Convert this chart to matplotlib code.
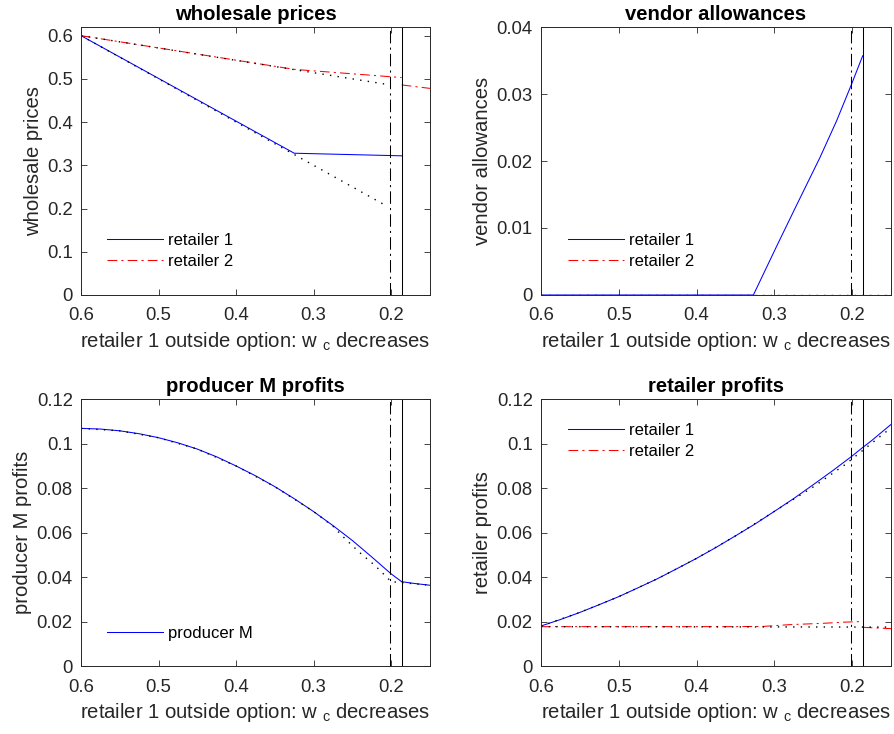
import matplotlib
matplotlib.use("Agg")
import matplotlib.pyplot as plt
from matplotlib.ticker import FuncFormatter

plt.rcParams['font.family'] = ['Liberation Sans', 'DejaVu Sans']
plt.rcParams['lines.scale_dashes'] = False

# ---- data ----
# wholesale prices
w1_x = [0.6, 0.325, 0.1865]
w1_y = [0.6, 0.328, 0.322]
w2_x = [0.6, 0.325, 0.1865]
w2_y = [0.6, 0.522, 0.503]
w2_after_x = [0.1865, 0.15]
w2_after_y = [0.486, 0.478]
w1_bench_x = [0.6, 0.208]
w1_bench_y = [0.6, 0.208]
w2_bench_x = [0.6, 0.201]
w2_bench_y = [0.6, 0.486]

# vendor allowances
a1_x = [0.6, 0.327, 0.297, 0.2715, 0.2415, 0.22, 0.201, 0.1865]
a1_y = [0.0, 0.0, 0.0073, 0.0134, 0.0205, 0.0260, 0.0314, 0.0357]
a2_x = [0.6, 0.15]
a2_y = [0.0, 0.0]

# producer M profits
pm_x = [0.6, 0.575, 0.55, 0.525, 0.5, 0.475, 0.45, 0.425, 0.4, 0.375, 0.35, 0.325,
        0.3, 0.275, 0.25, 0.225, 0.2, 0.1865]
pm_y = [0.1068, 0.1065, 0.1057, 0.1044, 0.1026, 0.1003, 0.0975, 0.0940, 0.0899, 0.0855,
        0.0806, 0.0752, 0.0694, 0.0631, 0.0564, 0.0490, 0.0414, 0.0379]
pm_after_x = [0.1865, 0.17, 0.15]
pm_after_y = [0.0379, 0.0371, 0.0363]
pm_bench_x = [0.6, 0.55, 0.5, 0.45, 0.4, 0.35, 0.3, 0.275, 0.26, 0.241, 0.22, 0.2, 0.19, 0.15]
pm_bench_y = [0.1068, 0.1057, 0.1026, 0.0975, 0.0899, 0.0806, 0.0694, 0.0628, 0.0574, 0.0511,
              0.0449, 0.0379, 0.0376, 0.0363]

# retailer profits
r1_x = [0.6, 0.575, 0.55, 0.525, 0.5, 0.475, 0.45, 0.425, 0.4, 0.375, 0.35, 0.325,
        0.3, 0.275, 0.25, 0.225, 0.2, 0.1865, 0.175, 0.15]
r1_y = [0.0180, 0.0209, 0.0241, 0.0276, 0.0312, 0.0352, 0.0393, 0.0438, 0.0484, 0.0533,
        0.0585, 0.0638, 0.0695, 0.0753, 0.0815, 0.0878, 0.0944, 0.0982, 0.1013, 0.1086]
r1_bench_x = [0.6, 0.55, 0.5, 0.45, 0.4, 0.35, 0.3, 0.25, 0.23, 0.21, 0.19, 0.16, 0.15]
r1_bench_y = [0.0180, 0.0241, 0.0312, 0.0393, 0.0484, 0.0585, 0.0695, 0.0805, 0.0854, 0.0903,
              0.0959, 0.1043, 0.1070]
r2_x = [0.6, 0.35, 0.3144, 0.28, 0.2372, 0.2116, 0.1865]
r2_y = [0.0177, 0.0177, 0.0178, 0.0186, 0.0192, 0.0197, 0.0200]
r2_after_x = [0.1865, 0.15]
r2_after_y = [0.0174, 0.0168]
r2_bench_x = [0.6, 0.15]
r2_bench_y = [0.0177, 0.0175]

# reference lines
wc_dashdot = 0.201
wc_solid = 0.1865

x_ticks = [0.6, 0.5, 0.4, 0.3, 0.2]
xlabel = r'retailer 1 outside option: w $_{\mathregular{c}}$ decreases'

# ---- styles ----
dashdot = (0, (7, 3, 1.5, 3))
dotted = (0, (1, 4.5))
axcol = (0.15, 0.15, 0.15)
fs = 13.3           # tick labels
fs_lab = 14.6       # axis labels, titles
fs_leg = 12         # legend
lw = 0.75

fig = plt.figure(figsize=(8.95, 7.34), dpi=100)
positions = [
    [0.0905, 0.5981, 0.3899, 0.3651],
    [0.6045, 0.5981, 0.3911, 0.3651],
    [0.0905, 0.0926, 0.3899, 0.3638],
    [0.6045, 0.0926, 0.3911, 0.3638],
]
axes = [fig.add_axes(p) for p in positions]


def style(ax, ylim, yticks, title, ylabel):
    ax.set_xlim(0.6, 0.15)
    ax.set_ylim(*ylim)
    ax.set_xticks(x_ticks)
    ax.set_yticks(yticks)
    ax.xaxis.set_major_formatter(FuncFormatter(lambda v, p: '%g' % round(v, 4)))
    ax.yaxis.set_major_formatter(FuncFormatter(lambda v, p: '%g' % round(v, 4)))
    ax.tick_params(direction='in', top=True, right=True, length=4, width=0.6,
                   colors=axcol, labelsize=fs)
    ax.tick_params(axis='x', pad=9)
    ax.tick_params(axis='y', pad=6)
    for s in ax.spines.values():
        s.set_color(axcol)
        s.set_linewidth(0.7)
    ax.set_title(title, fontsize=fs_lab, fontweight='bold', pad=5)
    ax.set_xlabel(xlabel, fontsize=fs_lab, color=axcol, labelpad=4)
    ax.set_ylabel(ylabel, fontsize=fs_lab, color=axcol, labelpad=3)
    ax.axvline(wc_dashdot, color='k', lw=lw, linestyle=(0, (9, 3, 1.5, 3)))
    ax.axvline(wc_solid, color='k', lw=lw)


def leg(ax, handles, labels, x_px, y_px):
    # x_px, y_px: left of the handle / top of legend, in pixels from axes top-left
    bb = ax.get_window_extent()
    fx = x_px / bb.width
    fy = 1 - y_px / bb.height
    ax.legend(handles, labels, loc='upper left', bbox_to_anchor=(fx, fy),
              frameon=False, fontsize=fs_leg, handlelength=3.36, handletextpad=0.3,
              labelspacing=0.35, borderpad=0, borderaxespad=0)


# wholesale prices
ax = axes[0]
l1, = ax.plot(w1_x, w1_y, color='b', lw=lw)
l2, = ax.plot(w2_x, w2_y, color='r', lw=lw, linestyle=dashdot)
ax.plot(w2_after_x, w2_after_y, color='r', lw=lw, linestyle=dashdot)
ax.plot(w1_bench_x, w1_bench_y, color='k', lw=1.0, linestyle=dotted)
ax.plot(w2_bench_x, w2_bench_y, color='k', lw=1.0, linestyle=dotted)
style(ax, (0, 0.62), [0, 0.1, 0.2, 0.3, 0.4, 0.5, 0.6], 'wholesale prices', 'wholesale prices')
leg(ax, [l1, l2], ['retailer 1', 'retailer 2'], 26, 205.8)

# vendor allowances
ax = axes[1]
l1, = ax.plot(a1_x, a1_y, color='b', lw=lw)
l2, = ax.plot(a2_x, a2_y, color='r', lw=lw, linestyle=dashdot)
ax.plot(a2_x, a2_y, color='k', lw=1.0, linestyle=dotted)
style(ax, (0, 0.04), [0, 0.01, 0.02, 0.03, 0.04], 'vendor allowances', 'vendor allowances')
leg(ax, [l1, l2], ['retailer 1', 'retailer 2'], 27, 206.2)

# producer M profits
ax = axes[2]
l1, = ax.plot(pm_x, pm_y, color='b', lw=lw)
ax.plot(pm_after_x, pm_after_y, color='b', lw=lw)
ax.plot(pm_bench_x, pm_bench_y, color='k', lw=1.0, linestyle=dotted)
style(ax, (0, 0.12), [0, 0.02, 0.04, 0.06, 0.08, 0.1, 0.12], 'producer M profits',
      'producer M profits')
leg(ax, [l1], ['producer M'], 26, 227)

# retailer profits
ax = axes[3]
l1, = ax.plot(r1_x, r1_y, color='b', lw=lw)
l2, = ax.plot(r2_x, r2_y, color='r', lw=lw, linestyle=dashdot)
ax.plot(r2_after_x, r2_after_y, color='r', lw=lw, linestyle=dashdot)
ax.plot(r1_bench_x, r1_bench_y, color='k', lw=1.0, linestyle=dotted)
ax.plot(r2_bench_x, r2_bench_y, color='k', lw=1.0, linestyle=dotted)
style(ax, (0, 0.12), [0, 0.02, 0.04, 0.06, 0.08, 0.1, 0.12], 'retailer profits',
      'retailer profits')
leg(ax, [l1, l2], ['retailer 1', 'retailer 2'], 27, 24.2)

fig.savefig('out.png', dpi=100)
